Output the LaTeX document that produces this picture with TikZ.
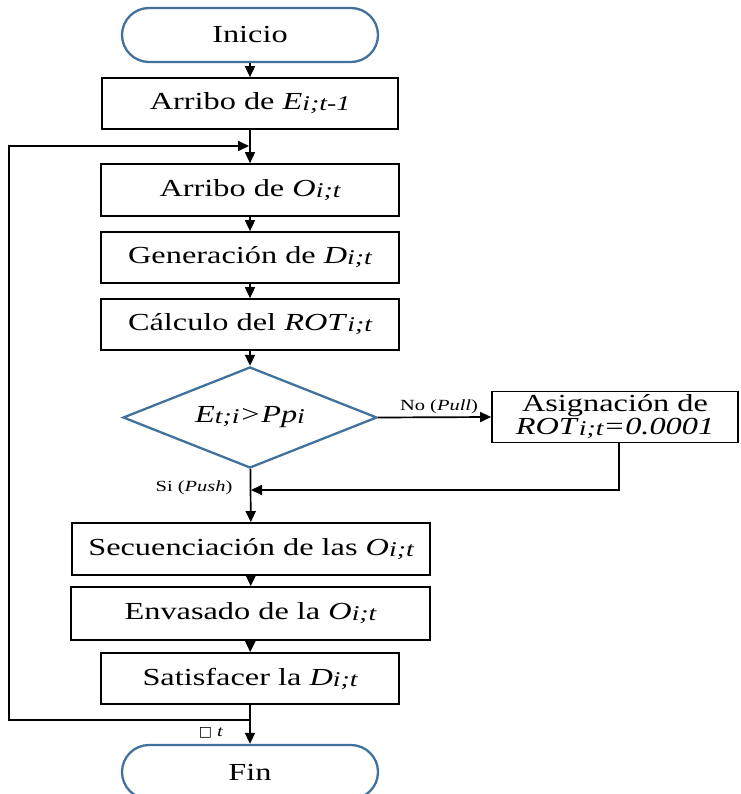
\documentclass[tikz,border=0pt]{standalone}
\usepackage{fontspec}
\setmainfont{Liberation Serif}[FakeStretch=1.32]
\newfontfamily\dvfont{DejaVu Sans}
\usetikzlibrary{shapes.misc,shapes.geometric,arrows.meta}
\definecolor{flowblue}{RGB}{65,113,156}
\newcommand{\sbs}[1]{\raisebox{-1pt}{\fontsize{21}{21}\selectfont\itshape #1}}
\newcommand{\bigtxt}{\fontsize{24.5}{26}\selectfont}
\newcommand{\smalltxt}{\fontsize{15.5}{17}\selectfont}
\begin{document}
\begin{tikzpicture}[x=1pt,y=-1pt,
  procbox/.style={draw=black,line width=1.7pt,rectangle,inner sep=0pt,font=\bigtxt,align=center},
  termbox/.style={draw=flowblue,line width=2.3pt,rounded rectangle,inner sep=0pt,minimum width=256pt,minimum height=54pt,font=\bigtxt},
  decbox/.style={draw=flowblue,line width=2.3pt,diamond,inner sep=0pt,font=\bigtxt},
  arr/.style={line width=1.7pt,-{Triangle[length=11pt,width=10pt]}},
  lbl/.style={font=\smalltxt,inner sep=0pt}]
\useasboundingbox (0,0) rectangle (740,794);

\node[termbox] (ini) at (250,35) {Inicio};
\node[procbox,minimum width=296pt,minimum height=51pt] (arrE) at (250,103.5) {Arribo de \textit{E}\sbs{i;t-1}};
\node[procbox,minimum width=298pt,minimum height=52pt] (arrO) at (250,190) {Arribo de \textit{O}\sbs{i;t}};
\node[procbox,minimum width=298pt,minimum height=51pt] (gen) at (250,257.5) {Generación de \textit{D}\sbs{i;t}};
\node[procbox,minimum width=298pt,minimum height=51pt] (calc) at (250,324.5) {Cálculo del \textit{ROT}\sbs{i;t}};
\node[decbox,minimum width=254pt,minimum height=101pt,aspect=2.5] (dec) at (250,417.5) {\textit{E}\sbs{t;i}\textit{>Pp}\sbs{i}};
\node[procbox,minimum width=246pt,minimum height=51pt,font=\fontsize{24.5}{23}\selectfont] (asig) at (615,417) {Asignación de\\\textit{ROT}\sbs{i;t}\textit{=0.0001}};
\node[procbox,minimum width=358pt,minimum height=52pt] (sec) at (251,549) {Secuenciación de las \textit{O}\sbs{i;t}};
\node[procbox,minimum width=359pt,minimum height=53pt] (env) at (250.5,613.5) {Envasado de la \textit{O}\sbs{i;t}};
\node[procbox,minimum width=298pt,minimum height=51pt] (sat) at (250,678.5) {Satisfacer la \textit{D}\sbs{i;t}};
\node[termbox] (fin) at (250,772) {Fin};

\draw[arr] (ini) -- (arrE);
\draw[arr] (arrE) -- (arrO);
\draw[arr] (arrO) -- (gen);
\draw[arr] (gen) -- (calc);
\draw[arr] (calc) -- (dec);
\draw[arr] (dec) -- (sec);
\draw[arr] (dec.east) -- (asig.west);
\draw[arr] (sec) -- (env);
\draw[arr] (env) -- (sat);
\draw[arr] (sat) -- (fin);

\coordinate (rA) at (619,443);
\coordinate (rB) at (619,490);
\coordinate (rC) at (251,490);
\draw[arr] (rA) -- (rB) -- (rC);

\coordinate (lA) at (250,720);
\coordinate (lB) at (9,720);
\coordinate (lC) at (9,146);
\coordinate (lD) at (249,146);
\draw[arr] (lA) -- (lB) -- (lC) -- (lD);

\node[lbl,anchor=south] (nolbl) at (439,414) {No (\textit{Pull})};
\node[lbl] (silbl) at (194,488) {Si (\textit{Push})};
\node[lbl] (tlbl) at (211,733) {{\dvfont\fontsize{14}{14}\selectfont □} \textit{t}};
\end{tikzpicture}
\end{document}
